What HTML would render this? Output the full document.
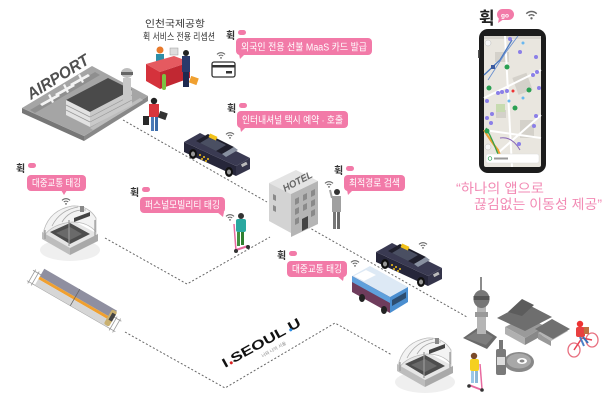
<!DOCTYPE html>
<html><head><meta charset="utf-8"><style>
html,body{margin:0;padding:0;background:#fff;}
svg{display:block;}
text{font-family:"Liberation Sans","Noto Sans CJK KR","NanumGothic",sans-serif;}
</style></head><body>
<svg width="607" height="409" viewBox="0 0 607 409" xmlns="http://www.w3.org/2000/svg">
<defs>
<symbol id="wf" viewBox="0 0 10 8">
<path d="M1,3.4 A5.5,5.5 0 0 1 9,3.4" fill="none" stroke="#666" stroke-width="1.1"/>
<path d="M2.8,5 A3.2,3.2 0 0 1 7.2,5" fill="none" stroke="#666" stroke-width="1.1"/>
<circle cx="5" cy="6.9" r="0.9" fill="#666"/>
</symbol>
<g id="taxi">
<polygon points="184,142 236,166 236,176 184,152" fill="#26263a"/>
<polygon points="236,166 250,158 250,169 236,176" fill="#34344a"/>
<polygon points="184,142 200,133 250,158 236,166" fill="#3a3a52"/>
<polygon points="196,141 208,134 234,147 222,154" fill="#1f1f2c"/>
<polygon points="222,154 234,147 238,150 226,157" fill="#8890a0"/>
<polygon points="200,143 210,137 226,145 216,151" fill="#4a4f62"/>
<rect x="209" y="135" width="8" height="4" fill="#f2c21b" transform="rotate(25 213 137)"/>
<circle cx="200" cy="155" r="1" fill="#f2c21b"/><circle cx="204" cy="157" r="1" fill="#f2c21b"/><circle cx="208" cy="159" r="1" fill="#f2c21b"/><circle cx="202" cy="159" r="1" fill="#f2c21b"/><circle cx="206" cy="161" r="1" fill="#f2c21b"/>
<ellipse cx="193" cy="154" rx="4" ry="5" fill="#111"/><ellipse cx="193" cy="154" rx="2" ry="2.5" fill="#999"/>
<ellipse cx="229" cy="172" rx="4" ry="5" fill="#111"/><ellipse cx="229" cy="172" rx="2" ry="2.5" fill="#999"/>
<rect x="241" y="163" width="6" height="3" fill="#bbb" transform="rotate(-28 244 164)"/>
</g>
<g id="subway">
<ellipse cx="70" cy="250" rx="30" ry="11" fill="#efefef"/>
<polygon points="42,232 70,219 98,234 70,248" fill="#e6e6e6"/>
<polygon points="42,232 70,248 70,255 42,239" fill="#bdbdbd"/>
<polygon points="70,248 98,234 98,241 70,255" fill="#a9a9a9"/>
<polygon points="50,232 70,223 90,234 70,244" fill="#4d4d4d"/>
<polygon points="56,233 70,227 82,234 70,240" fill="#6a6a6a"/>
<path d="M44,230 Q50,210 72,206 Q88,205 96,218 L96,232 Q88,222 72,222 Q52,224 44,236Z" fill="#f3f3f3" stroke="#bbb" stroke-width="0.8"/>
<path d="M52,226 Q60,210 78,207 M62,222 Q70,209 86,210" fill="none" stroke="#aaa" stroke-width="0.8"/>
<line x1="45" y1="230" x2="45" y2="239" stroke="#999" stroke-width="1.2"/>
<line x1="69" y1="220" x2="69" y2="246" stroke="#999" stroke-width="1.2"/>
<line x1="95" y1="220" x2="95" y2="236" stroke="#999" stroke-width="1.2"/>
<polygon points="74,218 90,212 90,216 74,222" fill="#444"/>
<rect x="80" y="206" width="4" height="6" fill="#888"/>
</g>
</defs>

<!-- dotted connectors -->
<g fill="none" stroke="#666" stroke-width="1" stroke-dasharray="2,2">
<polyline points="123,120 267,202"/>
<polyline points="308,227 467,317"/>
<polyline points="105,238 187,284 270,237"/>
<polyline points="125,332 225,388 335,323 392,355"/>
</g>

<!-- Airport -->
<polygon points="22,108 84,136 84,141 22,113" fill="#777"/>
<polygon points="84,136 148,96 148,101 84,141" fill="#888"/>
<polygon points="22,108 92,66 148,96 84,136" fill="#a5a5a5"/>
<polygon points="30,110 95,72 100,75 35,113" fill="#8f8f8f"/>
<polygon points="90,128 140,98 143,100 93,130" fill="#bdbdbd"/>
<g fill="#f4f4f4">
<polygon points="40,104 58,94 60,96 42,106"/><polygon points="48,95 52,103 54,102 50,94"/>
<polygon points="55,94 73,84 75,86 57,96"/><polygon points="63,85 67,93 69,92 65,84"/>
<polygon points="70,84 88,74 90,76 72,86"/><polygon points="78,75 82,83 84,82 80,74"/>
</g>
<polygon points="66,100 108,78 132,90 90,112" fill="#4a4a4a"/>
<polygon points="66,100 90,112 90,127 66,115" fill="#e2e2e2"/>
<polygon points="90,112 132,90 132,105 90,127" fill="#c9c9c9"/>
<g stroke="#999" stroke-width="0.7"><line x1="66" y1="105" x2="90" y2="117"/><line x1="66" y1="110" x2="90" y2="122"/><line x1="90" y1="117" x2="132" y2="95"/><line x1="90" y1="122" x2="132" y2="100"/></g>
<rect x="123" y="78" width="8" height="22" fill="#c8c8c8"/>
<ellipse cx="127" cy="73" rx="6" ry="5" fill="#bdbdbd"/>
<rect x="121" y="72" width="12" height="3" fill="#666"/>
<text x="0" y="0" font-size="16" font-weight="bold" font-style="italic" fill="#505050" textLength="70" lengthAdjust="spacingAndGlyphs" transform="translate(31,100) rotate(-32)">AIRPORT</text>

<!-- Reception -->
<text x="145" y="27" font-size="9.5" fill="#333" textLength="60" lengthAdjust="spacingAndGlyphs">인천국제공항</text>
<text x="143" y="40" font-size="9.5" fill="#333" textLength="72" lengthAdjust="spacingAndGlyphs">휙 서비스 전용 리셉션</text>
<circle cx="160" cy="50" r="3.5" fill="#e8792a"/>
<rect x="156" y="54" width="8" height="10" fill="#2d8fa8"/>
<rect x="170" y="48" width="8" height="7" fill="#ddd" stroke="#999" stroke-width="0.5"/>
<polygon points="146,64 174,56 190,62 160,72" fill="#e55a60"/>
<polygon points="146,64 160,72 160,89 146,81" fill="#d5323c"/>
<polygon points="160,72 190,62 190,78 160,89" fill="#c12832"/>
<rect x="162" y="74" width="4" height="16" rx="2" fill="#7cc242"/>
<circle cx="186" cy="53" r="3" fill="#222"/>
<rect x="182" y="56" width="8" height="16" fill="#2b3a6b"/>
<rect x="183" y="72" width="6" height="15" fill="#1e2a50"/>
<rect x="190" y="77" width="8" height="7" fill="#f0a030" transform="rotate(20 194 80)"/>

<!-- traveler -->
<circle cx="154" cy="101" r="3.2" fill="#222"/>
<rect x="149" y="104" width="10" height="13" fill="#d9353c"/>
<rect x="151" y="117" width="3" height="14" fill="#4a7ab8"/><rect x="155" y="117" width="3" height="14" fill="#3a6aa8"/>
<rect x="143" y="116" width="6" height="9" fill="#2a2a2a"/>
<rect x="159" y="112" width="8" height="7" fill="#333" transform="rotate(20 163 115)"/>

<!-- card -->
<use href="#wf" x="216" y="51" width="10" height="8"/>
<rect x="212" y="62" width="23" height="15" rx="2" fill="#fff" stroke="#333" stroke-width="1.3"/>
<rect x="212" y="65" width="23" height="2.5" fill="#333"/>
<rect x="226" y="71" width="6" height="2.5" fill="#333"/>

<!-- taxi 1 -->
<use href="#taxi"/>
<use href="#wf" x="225" y="131" width="10" height="8"/>

<!-- bubble labels -->
<g>
<text x="226" y="39" font-size="10" font-weight="bold" fill="#333">휙</text>
<rect x="238" y="30" width="8" height="5" rx="2.5" fill="#f27aa8"/>
<rect x="236" y="38" width="136" height="17" rx="4" fill="#f27aa8"/>
<polygon points="239,54 245,54 240,59" fill="#f27aa8"/>
<text x="241" y="50.5" font-size="10" fill="#fff" textLength="126" lengthAdjust="spacingAndGlyphs">외국인 전용 선불 MaaS 카드 발급</text>

<text x="227" y="112" font-size="10" font-weight="bold" fill="#333">휙</text>
<rect x="239" y="103" width="8" height="5" rx="2.5" fill="#f27aa8"/>
<rect x="237" y="111" width="111" height="17" rx="4" fill="#f27aa8"/>
<polygon points="240,127 246,127 241,132" fill="#f27aa8"/>
<text x="242" y="123.5" font-size="10" fill="#fff" textLength="101" lengthAdjust="spacingAndGlyphs">인터내셔널 택시 예약 · 호출</text>

<text x="16" y="172" font-size="10" font-weight="bold" fill="#333">휙</text>
<rect x="28" y="163" width="8" height="5" rx="2.5" fill="#f27aa8"/>
<rect x="27" y="175" width="59" height="16" rx="4" fill="#f27aa8"/>
<polygon points="61,190 67,190 64,195" fill="#f27aa8"/>
<text x="32" y="186.5" font-size="10" fill="#fff" textLength="49" lengthAdjust="spacingAndGlyphs">대중교통 태깅</text>

<text x="130" y="196" font-size="10" font-weight="bold" fill="#333">휙</text>
<rect x="142" y="187" width="8" height="5" rx="2.5" fill="#f27aa8"/>
<rect x="140" y="197" width="85" height="16" rx="4" fill="#f27aa8"/>
<polygon points="217,212 224,212 223,217" fill="#f27aa8"/>
<text x="145" y="208.5" font-size="10" fill="#fff" textLength="75" lengthAdjust="spacingAndGlyphs">퍼스널모빌리티 태깅</text>

<text x="334" y="174" font-size="10" font-weight="bold" fill="#333">휙</text>
<rect x="346" y="166" width="8" height="5" rx="2.5" fill="#f27aa8"/>
<rect x="344" y="175" width="61" height="16" rx="4" fill="#f27aa8"/>
<polygon points="347,190 353,190 348,195" fill="#f27aa8"/>
<text x="349" y="186.5" font-size="10" fill="#fff" textLength="51" lengthAdjust="spacingAndGlyphs">최적경로 검색</text>

<text x="277" y="259" font-size="10" font-weight="bold" fill="#333">휙</text>
<rect x="289" y="251" width="8" height="5" rx="2.5" fill="#f27aa8"/>
<rect x="287" y="261" width="60" height="16" rx="4" fill="#f27aa8"/>
<polygon points="337,276 344,276 343,281" fill="#f27aa8"/>
<text x="292" y="272.5" font-size="10" fill="#fff" textLength="50" lengthAdjust="spacingAndGlyphs">대중교통 태깅</text>
</g>

<!-- subway 1 -->
<use href="#wf" x="61" y="197" width="10" height="8"/>
<use href="#subway"/>

<!-- train -->
<g transform="translate(32,272) rotate(30)">
<g stroke="#999" stroke-width="0.8">
<line x1="0" y1="-2" x2="102" y2="-2"/><line x1="0" y1="10" x2="102" y2="10"/>
<line x1="2" y1="-4" x2="2" y2="12"/><line x1="6" y1="-4" x2="6" y2="12"/><line x1="96" y1="-4" x2="96" y2="12"/><line x1="100" y1="-4" x2="100" y2="12"/>
</g>
<rect x="9" y="-9" width="84" height="9" fill="#8f8fa0"/>
<rect x="9" y="0" width="84" height="3" fill="#f0a030"/>
<rect x="9" y="3" width="84" height="7" fill="#d6d6d6"/>
<line x1="50" y1="-9" x2="50" y2="10" stroke="#666" stroke-width="0.8"/>
<rect x="88" y="-8" width="6" height="17" rx="2" fill="#c9b070"/>
<rect x="90" y="-5" width="4" height="8" fill="#444"/>
</g>

<!-- hotel -->
<polygon points="269,183 296,170 318,181 291,194" fill="#e4e4e4"/>
<polygon points="269,183 291,194 291,233 269,221" fill="#d3d3d3"/>
<polygon points="291,194 318,181 318,224 291,237" fill="#b5b5b5"/>
<g fill="#8a8a8a">
<polygon points="295,199 299,197 299,203 295,205"/><polygon points="303,195 307,193 307,199 303,201"/><polygon points="311,191 315,189 315,195 311,197"/>
<polygon points="295,209 299,207 299,213 295,215"/><polygon points="303,205 307,203 307,209 303,211"/><polygon points="311,201 315,199 315,205 311,207"/>
<polygon points="295,219 299,217 299,223 295,225"/><polygon points="311,211 315,209 315,215 311,217"/>
<polygon points="273,194 276,195.5 276,201 273,199.5"/><polygon points="273,205 276,206.5 276,212 273,210.5"/>
</g>
<polygon points="302,219 308,216 308,228 302,231" fill="#444"/>
<text x="0" y="0" font-size="10" font-weight="bold" font-style="italic" fill="#666" textLength="32" lengthAdjust="spacingAndGlyphs" transform="translate(285,192) rotate(-28)">HOTEL</text>

<!-- person at hotel -->
<use href="#wf" x="324" y="180" width="10" height="8"/>
<circle cx="337" cy="192" r="3" fill="#333"/>
<rect x="332" y="196" width="9" height="16" fill="#a0a0a0"/>
<line x1="332" y1="198" x2="330" y2="190" stroke="#a0a0a0" stroke-width="2"/>
<rect x="333" y="212" width="3" height="17" fill="#777"/><rect x="337" y="212" width="3" height="17" fill="#6a6a6a"/>

<!-- scooter person -->
<use href="#wf" x="225" y="213" width="10" height="8"/>
<circle cx="241" cy="216" r="3" fill="#333"/>
<rect x="236" y="219" width="10" height="13" rx="2" fill="#2aa8a0"/>
<rect x="237" y="232" width="3" height="14" fill="#3f8f3f"/><rect x="241" y="232" width="3" height="13" fill="#2f7f2f"/>
<line x1="234" y1="224" x2="236" y2="251" stroke="#e86aa0" stroke-width="1.5"/>
<line x1="236" y1="250" x2="248" y2="246" stroke="#e86aa0" stroke-width="2"/>
<circle cx="236" cy="251" r="2" fill="#333"/><circle cx="248" cy="247" r="2" fill="#333"/>

<!-- taxi 2 -->
<use href="#taxi" transform="translate(192,110)"/>
<use href="#wf" x="418" y="241" width="10" height="8"/>

<!-- bus -->
<use href="#wf" x="350" y="259" width="10" height="8"/>
<polygon points="352,276 370,266 408,287 390,297" fill="#dde9f5"/>
<polygon points="354,276 366,270 376,275 364,281" fill="#fff"/>
<polygon points="352,276 390,297 390,313 352,292" fill="#6e3c5c"/>
<polygon points="352,276 390,297 390,303 352,282" fill="#5fa0dc"/>
<polygon points="390,297 408,287 408,302 390,313" fill="#4a8ed0"/>
<polygon points="392,300 406,292 406,298 392,306" fill="#2d4d70"/>
<ellipse cx="362" cy="298" rx="3" ry="4" fill="#222"/><ellipse cx="384" cy="310" rx="3" ry="4" fill="#222"/>

<!-- I.SEOUL.U -->
<g transform="translate(225,368) rotate(-29)">
<text x="0" y="0" font-size="13" font-weight="bold" fill="#111" textLength="88" lengthAdjust="spacingAndGlyphs">I SEOUL U</text>
<circle cx="8" cy="-1.5" r="1.5" fill="#d22"/>
<circle cx="76" cy="-1.5" r="1.5" fill="#2a8ae0"/>
<text x="38" y="9" font-size="4.5" fill="#888">너와 나의 서울</text>
</g>

<!-- subway 2 -->
<use href="#subway" transform="translate(355,132)"/>

<!-- Seoul landmarks -->
<line x1="481" y1="277" x2="481" y2="291" stroke="#666" stroke-width="1.5"/>
<polygon points="463,338 480,326 497,337 487,349" fill="#6a6a6a"/>
<polygon points="466,338 480,329 493,337 486,345" fill="#7d7d7d"/>
<rect x="477" y="304" width="9" height="30" fill="#b5b5b5"/>
<rect x="475" y="312" width="13" height="5" fill="#999"/>
<ellipse cx="481.5" cy="299" rx="8" ry="9" fill="#777"/>
<rect x="473.5" y="296" width="16" height="4" fill="#555"/>
<polygon points="505,327 525,317 545,326 525,338" fill="#9a9a9a"/>
<polygon points="505,327 525,338 525,345 505,334" fill="#b0b0b0"/>
<polygon points="525,338 545,326 545,334 525,345" fill="#888"/>
<polygon points="497,318 525,303 552,317 525,331" fill="#6e6e6e"/>
<polygon points="508,312 522,299 534,305 522,316" fill="#5c5c5c"/>
<polygon points="538,333 555,324 568,331 551,341" fill="#b5b5b5"/>
<polygon points="538,333 551,341 551,346 538,339" fill="#999"/>
<polygon points="535,329 552,319 570,329 553,339" fill="#707070"/>

<!-- cyclist -->
<ellipse cx="574" cy="350" rx="6" ry="7" fill="none" stroke="#e87080" stroke-width="1.3"/>
<ellipse cx="592" cy="340" rx="6" ry="7" fill="none" stroke="#e87080" stroke-width="1.3"/>
<polyline points="574,350 582,338 592,340" fill="none" stroke="#e84050" stroke-width="1.5"/>
<circle cx="580" cy="324" r="3.2" fill="#e33"/>
<rect x="576" y="327" width="9" height="10" rx="2" fill="#e84040"/>
<rect x="584" y="327" width="5" height="7" fill="#c07040"/>
<line x1="580" y1="337" x2="584" y2="346" stroke="#4a80c8" stroke-width="2"/>
<line x1="583" y1="337" x2="588" y2="343" stroke="#3a70b8" stroke-width="2"/>

<!-- scooter girl -->
<circle cx="474" cy="356" r="3.2" fill="#7a4a2a"/>
<rect x="470" y="359" width="9" height="12" rx="2" fill="#f5d020"/>
<rect x="471" y="371" width="3" height="12" fill="#9cc8e8"/><rect x="475" y="371" width="3" height="12" fill="#8cb8d8"/>
<line x1="480" y1="364" x2="482" y2="389" stroke="#e86aa0" stroke-width="1.5"/>
<line x1="469" y1="385" x2="482" y2="390" stroke="#e86aa0" stroke-width="2"/>
<circle cx="469" cy="386" r="1.8" fill="#333"/><circle cx="482" cy="390" r="1.8" fill="#333"/>

<!-- soju & dish -->
<ellipse cx="519" cy="362" rx="15" ry="10" fill="#888"/>
<ellipse cx="519" cy="361" rx="12" ry="7.5" fill="#a8a8a8"/>
<ellipse cx="522" cy="361" rx="5" ry="3" fill="#fff"/>
<ellipse cx="522" cy="361" rx="2.5" ry="1.5" fill="#888"/>
<rect x="499" y="340" width="4" height="10" fill="#777"/>
<rect x="496" y="349" width="10" height="26" rx="2" fill="#7a7a7a"/>
<rect x="497" y="357" width="8" height="8" fill="#ddd"/>

<!-- phone header -->
<text x="479" y="24" font-size="17" font-weight="bold" fill="#222">휙</text>
<rect x="497" y="9" width="17" height="11" rx="5.5" fill="#f27aa8"/>
<polygon points="499,18 504,19 498,23" fill="#f27aa8"/>
<text x="501" y="17.5" font-size="6.5" fill="#fff" font-weight="bold">go</text>
<use href="#wf" x="525" y="9" width="13" height="11"/>

<!-- phone -->
<rect x="479" y="29" width="67" height="144" rx="9" fill="#1c1c1c"/>
<rect x="478" y="50" width="1.5" height="8" fill="#555"/>
<rect x="484" y="36" width="57" height="131" rx="2" fill="#e9e6df"/>
<rect x="484" y="36" width="57" height="3" fill="#d8d5ce"/>
<g fill="#d4d1ca">
<rect x="495" y="52" width="14" height="10"/><rect x="515" y="75" width="15" height="18" transform="rotate(-20 522 84)"/>
<rect x="496" y="110" width="10" height="8"/><rect x="520" y="120" width="14" height="18"/>
</g>
<rect x="496" y="104" width="9" height="8" fill="#c7dbb0"/>
<g stroke="#fff" stroke-width="2" fill="none">
<path d="M484,98 L541,70"/><path d="M490,160 L541,115"/><path d="M505,36 L512,167"/><path d="M484,130 L541,138"/>
</g>
<path d="M484,75 L500,60 L512,40" stroke="#4a78c0" stroke-width="1.3" fill="none"/>
<path d="M488,80 L506,52 L518,36" stroke="#6a90d0" stroke-width="0.9" fill="none"/>
<path d="M484,130 Q490,140 498,150 L502,160" stroke="#f0a030" stroke-width="2" fill="none"/>
<path d="M486,128 Q494,142 500,160" stroke="#3aa04a" stroke-width="1.3" fill="none"/>
<path d="M500,138 Q512,136 520,150" stroke="#8a6ab8" stroke-width="1" fill="none"/>
<g fill="#8b7fe8">
<circle cx="510" cy="39" r="2"/><circle cx="520" cy="52" r="2"/><circle cx="536" cy="57" r="2"/><circle cx="537" cy="72" r="2"/><circle cx="533" cy="75" r="2"/>
<circle cx="498" cy="93" r="2"/><circle cx="502" cy="92" r="2"/><circle cx="507" cy="91" r="2"/><circle cx="539" cy="88" r="2"/>
<circle cx="487" cy="101" r="2"/><circle cx="536" cy="116" r="2"/><circle cx="487" cy="118" r="2"/><circle cx="491" cy="123" r="2"/>
<circle cx="534" cy="126" r="2"/><circle cx="519" cy="144" r="2"/><circle cx="492" cy="114" r="2"/>
</g>
<g fill="#2aa052">
<circle cx="507" cy="67" r="2.5"/><circle cx="489" cy="88" r="2.5"/><circle cx="529" cy="90" r="2.5"/><circle cx="515" cy="108" r="2.5"/><circle cx="487" cy="131" r="2.5"/>
</g>
<g fill="#6ab8f0"><circle cx="523" cy="43" r="1.5"/><circle cx="509" cy="101" r="1.5"/><circle cx="523" cy="98" r="1.5"/></g>
<rect x="491" y="65" width="4" height="4" fill="#3a5aa0"/>
<circle cx="513" cy="91" r="1.5" fill="#e33"/>
<circle cx="488" cy="43" r="3" fill="#f7f7f7" stroke="#bbb" stroke-width="0.5"/>
<circle cx="488" cy="147" r="3" fill="#f7f7f7" stroke="#bbb" stroke-width="0.5"/>
<rect x="486" y="154" width="53" height="9" rx="2" fill="#fff" stroke="#ddd" stroke-width="0.5"/>
<circle cx="490" cy="158.5" r="1.8" fill="none" stroke="#2aa052" stroke-width="0.7"/>
<rect x="494" y="157.5" width="14" height="2" fill="#999"/>

<!-- quote -->
<text x="456" y="193" font-size="13.5" fill="#f28ab4" textLength="88" lengthAdjust="spacingAndGlyphs">“하나의 앱으로</text>
<text x="474" y="209" font-size="13.5" fill="#f28ab4" textLength="128" lengthAdjust="spacingAndGlyphs">끊김없는 이동성 제공”</text>
</svg>
</body></html>
